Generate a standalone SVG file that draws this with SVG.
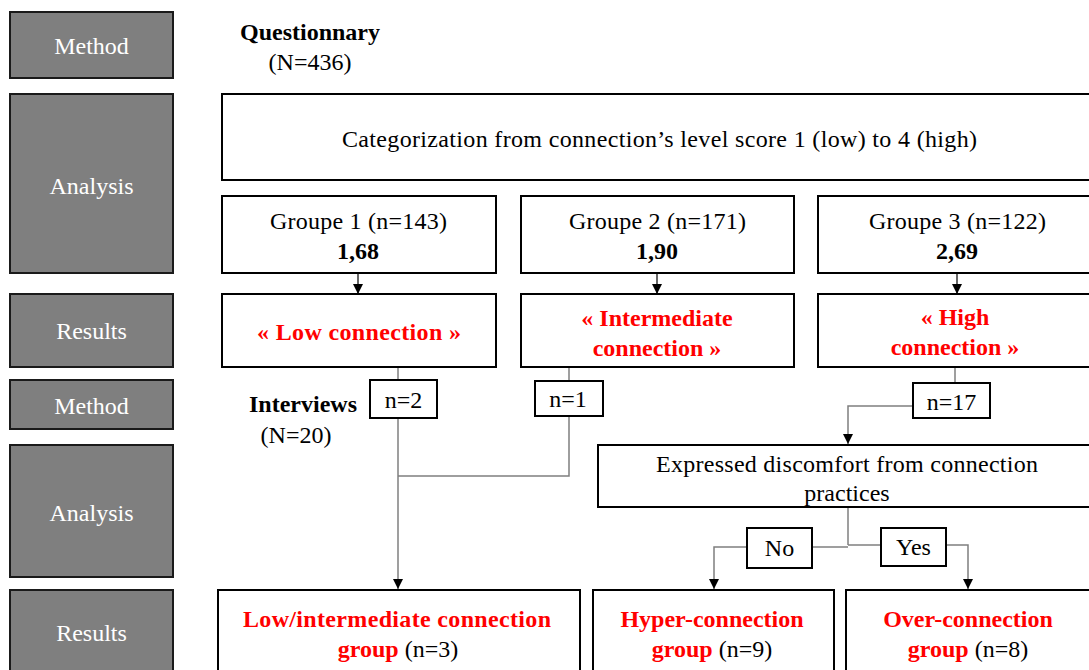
<svg xmlns="http://www.w3.org/2000/svg" width="1089" height="670" viewBox="0 0 1089 670">
<defs>
<marker id="arr" viewBox="0 0 10 10" refX="10" refY="5" markerWidth="10" markerHeight="10" markerUnits="userSpaceOnUse" orient="auto">
<path d="M0,0 L10,5 L0,10 Z" fill="#000"/>
</marker>
<style>
.side{fill:#7f7f7f;stroke:#1a1a1a;stroke-width:2}
.side-t{fill:#fff;font-family:"Liberation Serif","Times New Roman",serif;font-size:24px;text-anchor:middle}
.box{fill:#fff;stroke:#000;stroke-width:2}
.t{fill:#000;font-family:"Liberation Serif","Times New Roman",serif;font-size:24px;text-anchor:middle}
.b{font-weight:bold}
.red{fill:#ff0000;font-weight:bold}
.conn{fill:none;stroke:#7f7f7f;stroke-width:1.5}
.connk{fill:none;stroke:#000;stroke-width:1.2}
</style>
</defs>
<rect width="1089" height="670" fill="#fff"/>

<g id="side-labels">
<g id="side-method1"><rect class="side" x="10" y="12" width="163" height="66"/><text class="side-t" x="91.500" y="54">Method</text></g>
<g id="side-analysis1"><rect class="side" x="10" y="94" width="163" height="179"/><text class="side-t" x="91.500" y="194">Analysis</text></g>
<g id="side-results1"><rect class="side" x="10" y="294" width="163" height="73"/><text class="side-t" x="91.500" y="339">Results</text></g>
<g id="side-method2"><rect class="side" x="10" y="380" width="163" height="49"/><text class="side-t" x="91.500" y="414">Method</text></g>
<g id="side-analysis2"><rect class="side" x="10" y="445" width="163" height="132"/><text class="side-t" x="91.500" y="521">Analysis</text></g>
<g id="side-results2"><rect class="side" x="10" y="590" width="163" height="90"/><text class="side-t" x="91.500" y="641">Results</text></g>
</g>

<g id="connectors">
<line class="connk" x1="358" y1="273" x2="358" y2="294" marker-end="url(#arr)"/>
<line class="connk" x1="657" y1="273" x2="657" y2="294" marker-end="url(#arr)"/>
<line class="connk" x1="957" y1="273" x2="957" y2="294" marker-end="url(#arr)"/>
<line class="conn" x1="398" y1="367" x2="398" y2="380"/>
<line class="conn" x1="569" y1="367" x2="569" y2="381"/>
<line class="conn" x1="955" y1="367" x2="955" y2="383"/>
<path class="conn" d="M398,418 V589" marker-end="url(#arr)"/>
<path class="conn" d="M569,416 V476 H398"/>
<path class="conn" d="M913,406 H848 V444" marker-end="url(#arr)"/>
<path class="conn" d="M848,508 V545"/>
<path class="conn" d="M848,547 H812"/>
<path class="conn" d="M747,547 H714 V589" marker-end="url(#arr)"/>
<path class="conn" d="M848,545 H881"/>
<path class="conn" d="M946,545 H968 V589" marker-end="url(#arr)"/>
</g>

<g id="questionnary">
<text class="t b" x="310" y="40">Questionnary</text>
<text class="t" x="310" y="70">(N=436)</text>
</g>

<g id="categorization">
<rect class="box" x="222" y="94" width="880" height="86"/>
<text class="t" x="659.500" y="147" textLength="635" lengthAdjust="spacing">Categorization from connection’s level score 1 (low) to 4 (high)</text>
</g>

<g id="groupe1"><rect class="box" x="222" y="196" width="274" height="77"/>
<text class="t" x="358.500" y="229" textLength="177" lengthAdjust="spacing">Groupe 1 (n=143)</text><text class="t b" x="358" y="259">1,68</text></g>
<g id="groupe2"><rect class="box" x="521" y="196" width="273" height="77"/>
<text class="t" x="657.500" y="229" textLength="177" lengthAdjust="spacing">Groupe 2 (n=171)</text><text class="t b" x="657" y="259">1,90</text></g>
<g id="groupe3"><rect class="box" x="818" y="196" width="280" height="77"/>
<text class="t" x="957.500" y="229" textLength="177" lengthAdjust="spacing">Groupe 3 (n=122)</text><text class="t b" x="957" y="259">2,69</text></g>

<g id="low"><rect class="box" x="222" y="294" width="274" height="73"/>
<text class="t red" x="359" y="340" textLength="204" lengthAdjust="spacing">« Low connection »</text></g>
<g id="intermediate"><rect class="box" x="521" y="294" width="273" height="73"/>
<text class="t red" x="657" y="326">« Intermediate</text><text class="t red" x="657" y="356">connection »</text></g>
<g id="high"><rect class="box" x="818" y="294" width="280" height="73"/>
<text class="t red" x="955" y="325">« High</text><text class="t red" x="955" y="355">connection »</text></g>

<g id="interviews">
<text class="t b" x="303" y="412">Interviews</text>
<text class="t" x="296" y="443">(N=20)</text>
</g>

<g id="n2"><rect class="box" x="370" y="380" width="67" height="38"/><text class="t" x="403.500" y="408">n=2</text></g>
<g id="n1"><rect class="box" x="535" y="381" width="68" height="35"/><text class="t" x="568" y="407">n=1</text></g>
<g id="n17"><rect class="box" x="913" y="383" width="77" height="35"/><text class="t" x="951.500" y="410">n=17</text></g>

<g id="discomfort"><rect class="box" x="598" y="445" width="500" height="62"/>
<text class="t" x="847" y="472" textLength="382" lengthAdjust="spacing">Expressed discomfort from connection</text>
<text class="t" x="847" y="501">practices</text></g>

<g id="no"><rect class="box" x="747" y="528" width="65" height="40"/><text class="t" x="779.500" y="556">No</text></g>
<g id="yes"><rect class="box" x="881" y="528" width="65" height="38"/><text class="t" x="913.500" y="555">Yes</text></g>

<g id="lowint"><rect class="box" x="218" y="590" width="362" height="90"/>
<text class="t red" x="397" y="627" textLength="308" lengthAdjust="spacing">Low/intermediate connection</text>
<text class="t" x="398" y="657"><tspan class="red">group</tspan> (n=3)</text></g>
<g id="hyper"><rect class="box" x="593" y="590" width="241" height="90"/>
<text class="t red" x="712" y="627">Hyper-connection</text>
<text class="t" x="712" y="657"><tspan class="red">group</tspan> (n=9)</text></g>
<g id="over"><rect class="box" x="846" y="590" width="250" height="90"/>
<text class="t red" x="968" y="627">Over-connection</text>
<text class="t" x="968" y="657"><tspan class="red">group</tspan> (n=8)</text></g>
</svg>
